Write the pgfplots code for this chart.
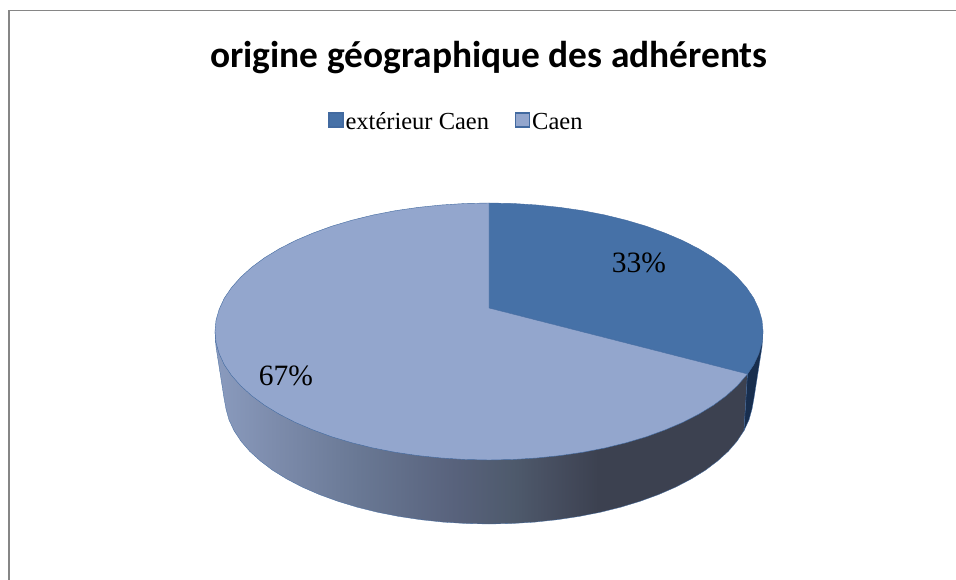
\documentclass[border=0pt]{standalone}
\usepackage{pgfplots}
\pgfplotsset{compat=1.18}
\usepackage{fontspec}
\setmainfont{Liberation Serif}
\newfontfamily\titlefont{Carlito}
\definecolor{topdark}{RGB}{70,113,167}
\definecolor{toplight}{RGB}{147,166,205}
\definecolor{edge}{RGB}{66,106,160}
\definecolor{darkside}{RGB}{24,46,78}
\definecolor{frame}{RGB}{134,134,134}
\pgfdeclarehorizontalshading{pieside}{100bp}{
 color(0bp)=(rgb,255:red,138;green,155;blue,190);
 color(25bp)=(rgb,255:red,138;green,155;blue,190);
 color(30.5bp)=(rgb,255:red,125;green,140;blue,172);
 color(38.5bp)=(rgb,255:red,105;green,120;blue,148);
 color(47.5bp)=(rgb,255:red,88;green,98;blue,124);
 color(53bp)=(rgb,255:red,78;green,90;blue,108);
 color(56bp)=(rgb,255:red,72;green,80;blue,98);
 color(61bp)=(rgb,255:red,60;green,65;blue,80);
 color(100bp)=(rgb,255:red,60;green,65;blue,80)}
\begin{document}
\begin{tikzpicture}
\begin{axis}[
  scale only axis, width=956pt, height=580pt,
  xmin=0, xmax=956, ymin=0, ymax=580, y dir=reverse,
  hide axis, clip=true,
  legend columns=2,
  legend style={draw=none, fill=none, at={(axis cs:456.5,120)}, anchor=center,
    font=\fontsize{24.5}{29}\selectfont, /tikz/every even column/.style={column sep=24pt},
    inner sep=0pt, row sep=0pt},
  legend cell align=left,
  legend image code/.code={\draw[#1,line width=1.1pt] (0pt,-7pt) rectangle (14pt,7pt);},
]
% page
\addplot[draw=none, fill=white, forget plot] coordinates {(0,0)(956,0)(956,580)(0,580)} -- cycle;
% frame
\addplot[color=frame, line width=1.6pt, forget plot] coordinates {(9,580)(9,10.5)(956,10.5)};
% side, light slice
\addplot[shading=pieside, draw=edge, line width=0.3pt, forget plot] coordinates {
(215,331.5)(216,347)(224,398)(226,409)(229,419.9)(234,430.6)(240.9,441.1)(249.7,451.3)(260.4,461)(272.7,470.3)(286.8,479)(302.3,487.1)(319.3,494.5)(337.6,501.2)(357,507.1)(377.4,512.2)(398.7,516.4)(420.7,519.7)(443.2,522.1)(466,523.5)(489,524)
(512,523.5)(534.8,522.1)(557.3,519.7)(579.3,516.4)(600.6,512.2)(621,507.1)(640.4,501.2)(658.7,494.5)(675.7,487.1)(691.2,479)(705.3,470.3)(717.6,461)(728.3,451.3)(737.1,441.1)(744,430.6)
(747.5,374)(489,400)
} -- cycle;
% side, dark slice
\addplot[fill=darkside, draw=edge, line width=0.3pt, forget plot] coordinates {
(747.5,374)(744,430.6)(749,419.9)(752,409)(754,398)(762,347)(763,331.5)
} -- cycle;
% top, extérieur Caen (33)
\addplot[fill=topdark, draw=edge, line width=0.4pt] coordinates {
(489,308)(489,203)(512.9,203.5)(536.6,205)(559.9,207.4)(582.7,210.7)(604.8,215)(626,220.2)(646.2,226.2)(665.1,233.1)(682.7,240.6)(698.9,248.9)(713.5,257.8)(726.3,267.25)(737.3,277.2)(746.5,287.6)(753.7,298.2)(758.8,309.2)(762,320.3)(763,331.5)(762,342.7)(758.8,353.8)(753.7,364.8)(747.5,374)
} -- cycle;
\addlegendentry{extérieur Caen\strut}
% top, Caen (67)
\addplot[fill=toplight, draw=edge, line width=0.4pt] coordinates {
(489,308)(747.5,374)(737.3,385.8)(726.3,395.75)(713.5,405.2)(698.9,414.1)(682.7,422.4)(665.1,429.9)(646.2,436.8)(626,442.8)(604.8,448)(582.7,452.3)(559.9,455.6)(536.6,458)(512.9,459.5)(489,460)
(465.1,459.5)(441.4,458)(418.1,455.6)(395.3,452.3)(373.2,448)(352,442.8)(331.8,436.8)(312.9,429.9)(295.3,422.4)(279.1,414.1)(264.5,405.2)(251.7,395.75)(240.7,385.8)(231.5,375.4)(224.3,364.8)(219.2,353.8)(216,342.7)(215,331.5)
(216,320.3)(219.2,309.2)(224.3,298.2)(231.5,287.6)(240.7,277.2)(251.7,267.25)(264.5,257.8)(279.1,248.9)(295.3,240.6)(312.9,233.1)(331.8,226.2)(352,220.2)(373.2,215)(395.3,210.7)(418.1,207.4)(441.4,205)(465.1,203.5)(489,203)
} -- cycle;
\addlegendentry{Caen\strut}
\node[font=\titlefont\bfseries\fontsize{37.4}{42}\selectfont, anchor=center] at (axis cs:489,58) {origine géographique des adhérents};
\node[font=\fontsize{29.5}{34}\selectfont, anchor=center] at (axis cs:639,263) {33\%};
\node[font=\fontsize{29.5}{34}\selectfont, anchor=center] at (axis cs:286,376) {67\%};
\end{axis}
\end{tikzpicture}
\end{document}
